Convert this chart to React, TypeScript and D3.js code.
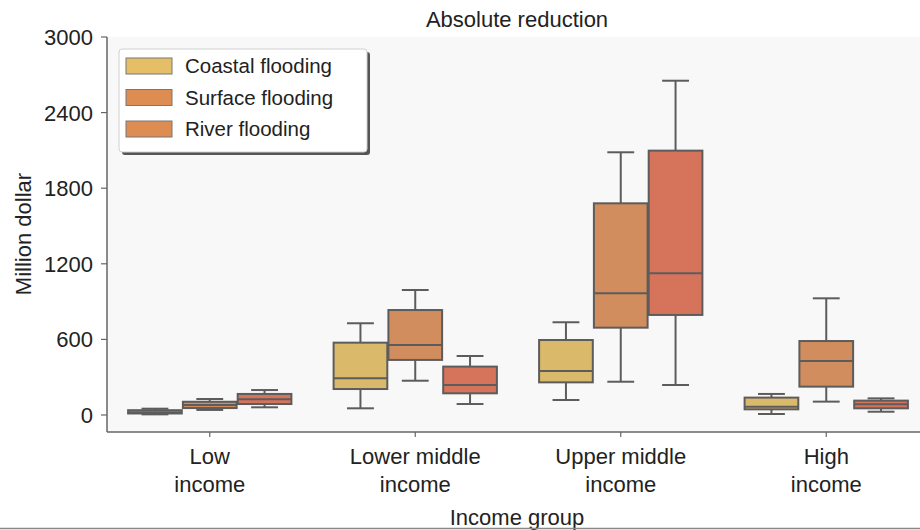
import React from "react";
import * as d3 from "d3";

const categories = ["Low income", "Lower middle income", "Upper middle income", "High income"];
const categoryLines = [["Low", "income"], ["Lower middle", "income"], ["Upper middle", "income"], ["High", "income"]];
const seriesNames = ["Coastal flooding", "Surface flooding", "River flooding"];
// [whiskerLow, q1, median, q3, whiskerHigh] per category
const coastal = [
  [5, 12, 22, 38, 50],
  [53, 206, 291, 574, 728],
  [119, 259, 349, 595, 736],
  [8, 45, 66, 138, 167],
];
const surface = [
  [40, 55, 80, 105, 127],
  [272, 437, 556, 833, 992],
  [264, 693, 966, 1680, 2085],
  [106, 225, 429, 587, 926],
];
const river = [
  [61, 87, 125, 167, 198],
  [87, 172, 238, 384, 468],
  [238, 794, 1124, 2098, 2653],
  [26, 53, 85, 114, 132],
];
const yTicks = [0, 600, 1200, 1800, 2400, 3000];
const boxColors = ["#dbb96b", "#d18d5d", "#d6735b"];
const legendColors = ["#e5bf68", "#dd8c52", "#dd8c52"];

const W = 920;
const H = 530;
const FONT = "'Liberation Sans', Arial, Helvetica, sans-serif";

export default function App() {
  const seriesData = [coastal, surface, river];
  const x = d3.scaleBand<string>().domain(categories).range([107, 929]).padding(0);
  const inner = d3
    .scaleBand<string>()
    .domain(seriesNames)
    .range([x.bandwidth() * 0.1, x.bandwidth() * 0.9])
    .padding(0);
  const y = d3.scaleLinear().domain([-135, 3000]).range([432, 37]);
  const bw = inner.bandwidth() * 0.98;
  const edge = "#5c5c5c";

  return (
    <svg width={W} height={H} style={{ position: "absolute", left: 0, top: 0, background: "#fff" }} fontFamily={FONT}>
      <rect x={107} y={37} width={W - 107} height={432 - 37} fill="#f8f8f8" />
      <text x={517} y={27} textAnchor="middle" fontSize={22} fill="#222">Absolute reduction</text>

      {/* y axis */}
      <line x1={107} x2={107} y1={37} y2={432} stroke="#666" strokeWidth={1.5} />
      {yTicks.map((t) => (
        <g key={t}>
          <line x1={101} x2={107} y1={y(t)} y2={y(t)} stroke="#666" strokeWidth={1.2} />
          <text x={93} y={y(t) + 8} textAnchor="end" fontSize={22} fill="#222">{t}</text>
        </g>
      ))}
      <text transform={`translate(31,234) rotate(-90)`} textAnchor="middle" fontSize={22} fill="#222">Million dollar</text>

      {/* x axis */}
      <line x1={107} x2={W} y1={432} y2={432} stroke="#666" strokeWidth={1.5} />
      {categories.map((c, i) => {
        const cx = (x(c) as number) + x.bandwidth() / 2;
        return (
          <g key={c}>
            <line x1={cx} x2={cx} y1={432} y2={437} stroke="#666" strokeWidth={1.2} />
            <text x={cx} y={464} textAnchor="middle" fontSize={22} fill="#222">{categoryLines[i][0]}</text>
            <text x={cx} y={492} textAnchor="middle" fontSize={22} fill="#222">{categoryLines[i][1]}</text>
          </g>
        );
      })}
      <text x={517} y={525} textAnchor="middle" fontSize={22} fill="#222">Income group</text>
      <line x1={0} x2={W} y1={528.5} y2={528.5} stroke="#888" strokeWidth={1.5} />

      {/* boxes */}
      {categories.map((c, ci) =>
        seriesNames.map((s, si) => {
          const [lo, q1, med, q3, hi] = seriesData[si][ci];
          const cx = (x(c) as number) + (inner(s) as number) + inner.bandwidth() / 2;
          const left = cx - bw / 2;
          const capHalf = bw / 4;
          return (
            <g key={c + s} stroke={edge} strokeWidth={2}>
              <line x1={cx} x2={cx} y1={y(q3)} y2={y(hi)} />
              <line x1={cx} x2={cx} y1={y(q1)} y2={y(lo)} />
              <line x1={cx - capHalf} x2={cx + capHalf} y1={y(hi)} y2={y(hi)} />
              <line x1={cx - capHalf} x2={cx + capHalf} y1={y(lo)} y2={y(lo)} />
              <rect x={left} y={y(q3)} width={bw} height={y(q1) - y(q3)} fill={boxColors[si]} />
              <line x1={left} x2={left + bw} y1={y(med)} y2={y(med)} />
            </g>
          );
        })
      )}

      {/* legend */}
      <rect x={122} y={52} width={248} height={103} rx={3} fill="#555" />
      <rect x={119} y={49} width={248} height={103} rx={3} fill="#fff" stroke="#d0d0d0" />
      {seriesNames.map((s, i) => (
        <g key={s}>
          <rect x={126} y={58 + i * 31.5} width={46} height={16} fill={legendColors[i]} stroke="#777" strokeWidth={1} />
          <text x={185} y={73 + i * 31.5} fontSize={20.5} fill="#222">{s}</text>
        </g>
      ))}
    </svg>
  );
}
